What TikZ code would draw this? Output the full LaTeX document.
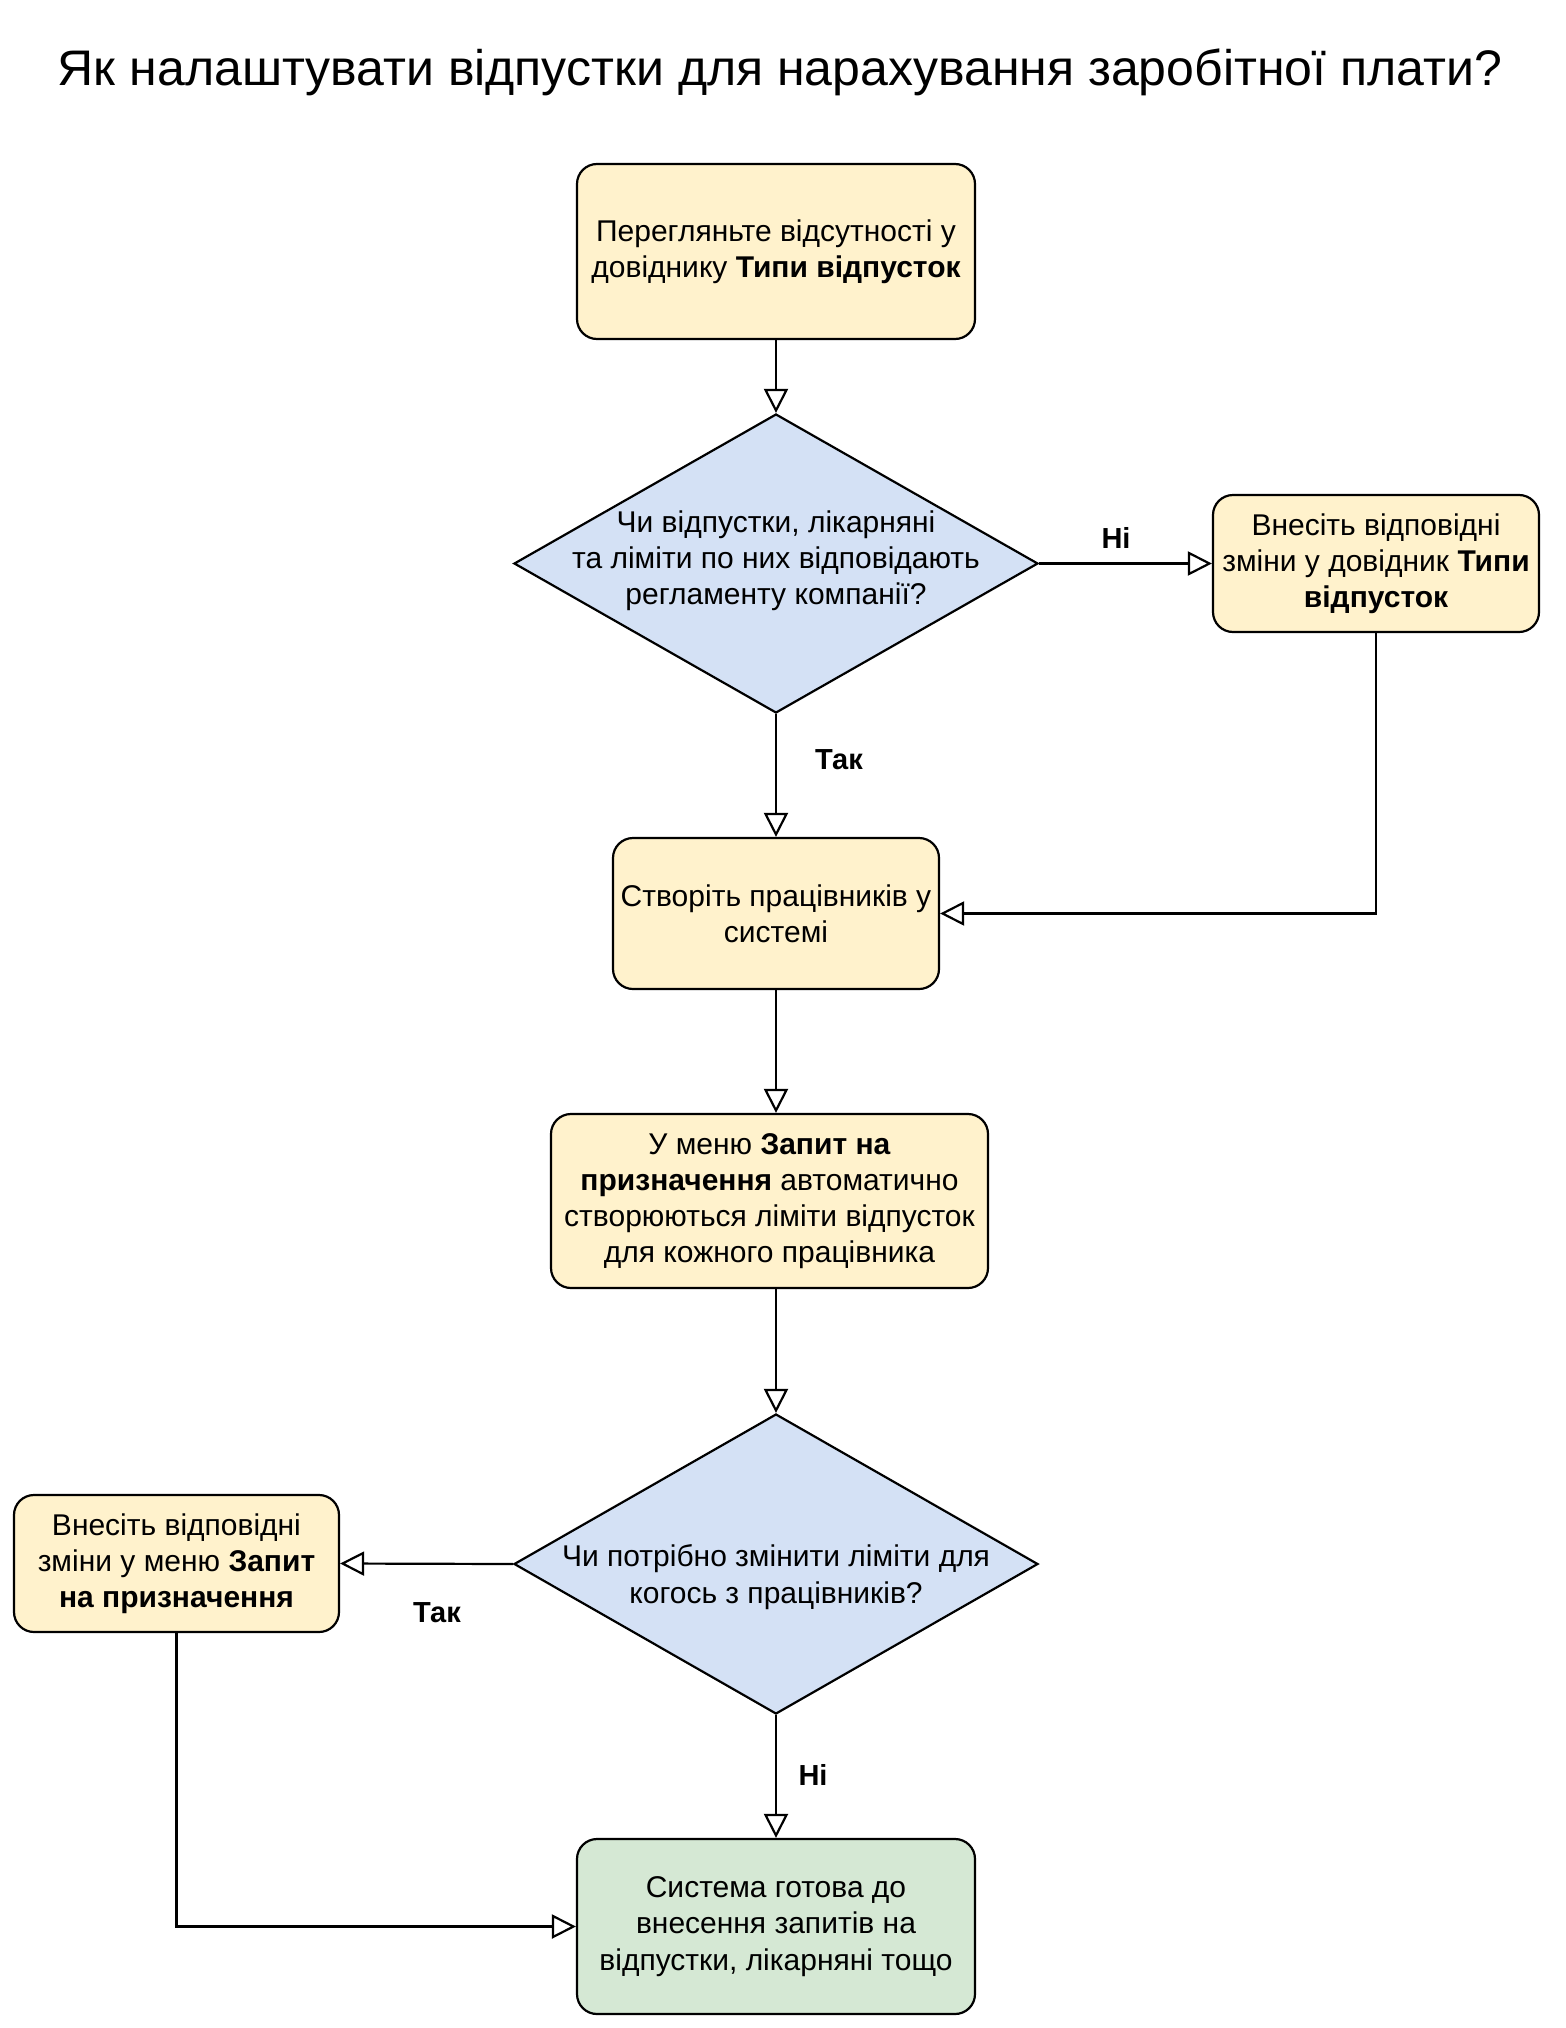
\documentclass[tikz,border=0pt]{standalone}
\usepackage{fontspec}
\setmainfont{Liberation Sans}
\usetikzlibrary{shapes.geometric,arrows.meta}
\definecolor{yel}{HTML}{FFF2CC}
\definecolor{blu}{HTML}{D4E1F5}
\definecolor{grn}{HTML}{D5E8D4}
\tikzset{
  body/.style={font=\fontsize{15}{18.1}\selectfont, align=center},
  procbox/.style={body, draw=black, line width=1.1pt, rounded corners=10pt, inner sep=0pt},
  dia/.style={shape=diamond, draw=black, line width=1.1pt, fill=blu, inner sep=0pt},
  conn/.style={line width=1.1pt, -{Triangle[width=12pt,length=12pt,fill=white]}},
  elabel/.style={font=\fontsize{14.5}{18}\selectfont\bfseries}
}
\begin{document}
\begin{tikzpicture}[x=0.5pt,y=-0.5pt]
\useasboundingbox (0,0) rectangle (1565,2028);
\node (title) at (780,72) {\fontsize{25}{30}\selectfont Як налаштувати відпустки для нарахування заробітної плати?};

\node[procbox, fill=yel, minimum width=199pt, minimum height=87.5pt] (b1) at (776,251.5)
  {Перегляньте відсутності у\\довіднику \textbf{Типи відпусток}};

\node[dia, minimum width=262pt, minimum height=149.5pt] (d1) at (776,563.5) {};
\node[body] (d1t) at (776,561) {Чи відпустки, лікарняні\\та ліміти по них відповідають\\регламенту компанії?};

\node[procbox, fill=yel, minimum width=163pt, minimum height=68.5pt] (r) at (1376,563.5)
  {Внесіть відповідні\\зміни у довідник \textbf{Типи}\\\textbf{відпусток}};

\node[procbox, fill=yel, minimum width=163pt, minimum height=75.5pt] (b2) at (776,913.5)
  {Створіть працівників у\\системі};

\node[procbox, fill=yel, minimum width=218.5pt, minimum height=87pt] (b3) at (769.5,1201)
  {У меню \textbf{Запит на}\\\textbf{призначення} автоматично\\створюються ліміти відпусток\\для кожного працівника};

\node[dia, minimum width=262pt, minimum height=150pt] (d2) at (776,1564) {};
\node[body] (d2t) at (776,1577) {Чи потрібно змінити ліміти для\\когось з працівників?};

\node[procbox, fill=yel, minimum width=162.5pt, minimum height=68.5pt] (l) at (176.5,1563.5)
  {Внесіть відповідні\\зміни у меню \textbf{Запит}\\\textbf{на призначення}};

\node[procbox, fill=grn, minimum width=199pt, minimum height=87.5pt] (f) at (776,1926.5)
  {Система готова до\\внесення запитів на\\відпустки, лікарняні тощо};

\draw[conn] (b1.south) -- (d1.north);
\draw[conn] (d1.east) -- (r.west);
\draw[conn] (d1.south) -- (b2.north);
\draw[conn] (r.south) |- (b2.east);
\draw[conn] (b2.south) -- (b2.south |- b3.north);
\draw[conn] (b3.south -| d2.north) -- (d2.north);
\draw[conn] (d2.west) -- (l.east);
\draw[conn] (d2.south) -- (f.north);
\draw[conn] (l.south) |- (f.west);

\node[elabel] (lab1) at (1116,538) {Ні};
\node[elabel] (lab2) at (839,760) {Так};
\node[elabel] (lab3) at (437,1613) {Так};
\node[elabel] (lab4) at (813,1775) {Ні};
\end{tikzpicture}
\end{document}
